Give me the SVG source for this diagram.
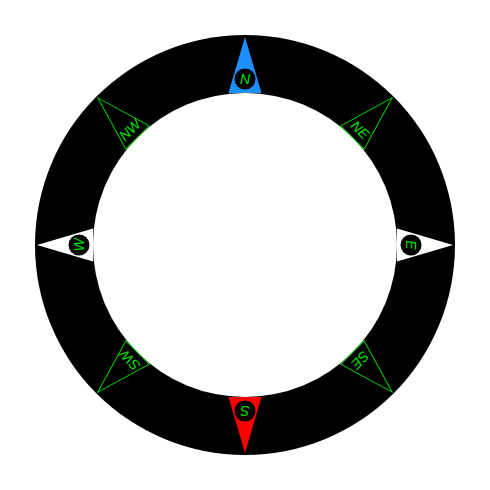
<svg xmlns="http://www.w3.org/2000/svg" width="490" height="490" viewBox="0 0 490 490">
<style>
.lbl{font-family:"Liberation Sans",Arial,sans-serif;font-style:italic;font-size:14px;fill:#00e000;text-anchor:middle}
.dial{fill:#000000}
.face{fill:#ffffff}
.hub{fill:#000000}
.minor{fill:none;stroke:#00d000;stroke-width:1}
</style>
<defs>
<polygon id="needle" points="245,37 228.5,93 261.5,93"/>
</defs>
<rect width="490" height="490" fill="#ffffff"/>
<g id="ring">
<circle class="dial" cx="245" cy="245" r="210"/>
<circle class="face" cx="245" cy="245" r="152"/>
</g>
<g id="north">
<use href="#needle" fill="#1e8fff"/>
<circle class="hub" cx="245" cy="79" r="10.5"/>
<text class="lbl" x="245" y="84">N</text>
</g>
<g id="east" transform="rotate(90 245 245)">
<use href="#needle" fill="#ffffff"/>
<circle class="hub" cx="245" cy="79" r="10.5"/>
<text class="lbl" x="245" y="84">E</text>
</g>
<g id="south" transform="rotate(180 245 245)">
<use href="#needle" fill="#ff0000"/>
<circle class="hub" cx="245" cy="79" r="10.5"/>
<text class="lbl" x="245" y="84">S</text>
</g>
<g id="west" transform="rotate(270 245 245)">
<use href="#needle" fill="#ffffff"/>
<circle class="hub" cx="245" cy="79" r="10.5"/>
<text class="lbl" x="245" y="84">W</text>
</g>
<g id="northeast" transform="rotate(45 245 245)">
<use href="#needle" class="minor"/>
<text class="lbl" x="245" y="87">NE</text>
</g>
<g id="southeast" transform="rotate(135 245 245)">
<use href="#needle" class="minor"/>
<text class="lbl" x="245" y="87">SE</text>
</g>
<g id="southwest" transform="rotate(225 245 245)">
<use href="#needle" class="minor"/>
<text class="lbl" x="245" y="87">SW</text>
</g>
<g id="northwest" transform="rotate(315 245 245)">
<use href="#needle" class="minor"/>
<text class="lbl" x="245" y="87">NW</text>
</g>
</svg>
